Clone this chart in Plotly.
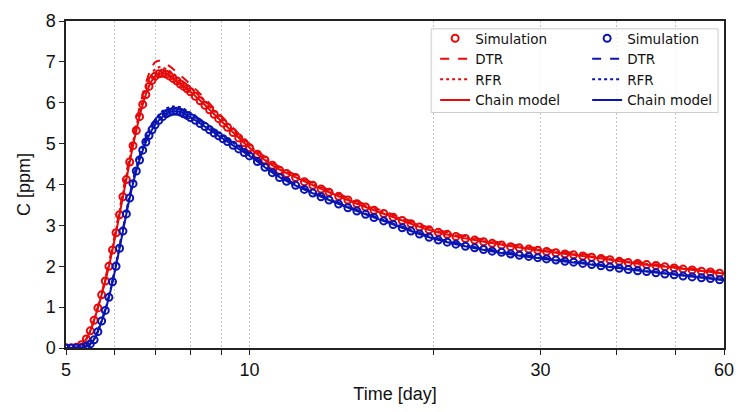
import plotly.graph_objects as go

# ---- data ----
t_sim = [5.0, 5.1, 5.2, 5.3, 5.4, 5.48, 5.56, 5.64, 5.72, 5.8,
         5.88, 5.96, 6.04, 6.12, 6.2, 6.28, 6.36, 6.44, 6.52, 6.6,
         6.68, 6.76, 6.84, 6.92, 7.0, 7.1, 7.2, 7.3, 7.4, 7.5,
         7.6, 7.7, 7.8, 7.9, 8.0, 8.15, 8.3, 8.45, 8.6, 8.75,
         8.9, 9.05, 9.2, 9.4, 9.6, 9.8, 10.0, 10.3, 10.6, 10.9,
         11.2, 11.5, 11.9, 12.3, 12.7, 13.1, 13.5, 14.0, 14.5, 15.0,
         15.5, 16.0, 16.6, 17.2, 17.8, 18.4, 19.0, 19.7, 20.4, 21.1,
         21.8, 22.6, 23.4, 24.2, 25.0, 25.9, 26.8, 27.7, 28.7, 29.7,
         30.7, 31.8, 32.9, 34.0, 35.2, 36.4, 37.7, 39.0, 40.4, 41.8,
         43.3, 44.8, 46.4, 48.0, 49.7, 51.4, 53.2, 55.1, 57.0, 59.0]

red_sim = [0.0, 0.0, 0.02, 0.08, 0.22, 0.42, 0.68, 0.98, 1.30, 1.64,
           2.0, 2.4, 2.82, 3.26, 3.7, 4.12, 4.55, 4.95, 5.32, 5.66,
           5.96, 6.2, 6.4, 6.55, 6.65, 6.71, 6.72, 6.70, 6.65, 6.59,
           6.53, 6.46, 6.40, 6.34, 6.27, 6.16, 6.05, 5.94, 5.83, 5.72,
           5.61, 5.50, 5.40, 5.27, 5.14, 5.02, 4.90, 4.74, 4.60, 4.47,
           4.35, 4.27, 4.17, 4.07, 3.98, 3.89, 3.81, 3.71, 3.62, 3.53,
           3.45, 3.37, 3.29, 3.20, 3.12, 3.04, 2.96, 2.89, 2.83, 2.78,
           2.73, 2.68, 2.64, 2.60, 2.56, 2.52, 2.48, 2.45, 2.42, 2.39,
           2.36, 2.33, 2.30, 2.28, 2.25, 2.22, 2.19, 2.16, 2.12, 2.09,
           2.07, 2.04, 2.02, 1.99, 1.96, 1.93, 1.91, 1.88, 1.86, 1.83]

blue_sim = [0.0, 0.0, 0.0, 0.01, 0.04, 0.10, 0.20, 0.40, 0.66, 0.92,
            1.24, 1.62, 2.00, 2.44, 2.86, 3.28, 3.67, 4.02, 4.33, 4.60,
            4.84, 5.04, 5.20, 5.34, 5.46, 5.57, 5.66, 5.73, 5.77, 5.79,
            5.79, 5.77, 5.73, 5.69, 5.64, 5.57, 5.49, 5.42, 5.34, 5.26,
            5.19, 5.12, 5.05, 4.96, 4.87, 4.78, 4.70, 4.56, 4.42, 4.29,
            4.17, 4.08, 3.98, 3.88, 3.79, 3.70, 3.62, 3.52, 3.43, 3.35,
            3.27, 3.19, 3.11, 3.02, 2.94, 2.86, 2.79, 2.71, 2.64, 2.59,
            2.54, 2.49, 2.45, 2.41, 2.37, 2.34, 2.30, 2.27, 2.24, 2.21,
            2.18, 2.15, 2.12, 2.10, 2.07, 2.04, 2.01, 1.98, 1.95, 1.92,
            1.89, 1.87, 1.84, 1.81, 1.79, 1.76, 1.74, 1.72, 1.70, 1.67]

t_model = [5.0, 5.2, 5.3, 5.4, 5.5, 5.6, 5.7, 5.8, 5.9, 6.0,
           6.1, 6.2, 6.3, 6.4, 6.5, 6.6, 6.7, 6.8, 6.9, 7.0,
           7.1, 7.2, 7.35, 7.5, 7.7, 8.0, 8.4, 8.8, 9.3, 10.0,
           11.0, 12.0, 13.5, 15.0, 17.0, 20.0, 24.0, 30.0, 36.0, 43.0,
           50.0, 60.0]

red_dtr = [0.0, 0.02, 0.08, 0.22, 0.48, 0.84, 1.25, 1.70, 2.18, 2.70,
           3.26, 3.83, 4.38, 4.92, 5.42, 5.88, 6.27, 6.60, 6.84, 6.99,
           7.03, 7.00, 6.92, 6.82, 6.67, 6.45, 6.14, 5.82, 5.45, 4.99,
           4.50, 4.21, 3.87, 3.59, 3.29, 2.92, 2.66, 2.43, 2.28, 2.11,
           1.99, 1.85]
red_rfr = [0.0, 0.02, 0.08, 0.22, 0.48, 0.84, 1.24, 1.67, 2.14, 2.66,
           3.21, 3.77, 4.31, 4.84, 5.33, 5.77, 6.15, 6.46, 6.68, 6.82,
           6.87, 6.86, 6.80, 6.71, 6.57, 6.37, 6.07, 5.76, 5.40, 4.95,
           4.47, 4.18, 3.84, 3.56, 3.26, 2.89, 2.63, 2.40, 2.25, 2.09,
           1.97, 1.83]
red_chain = [0.0, 0.02, 0.08, 0.22, 0.48, 0.83, 1.22, 1.64, 2.10, 2.61,
             3.15, 3.70, 4.23, 4.75, 5.23, 5.66, 6.02, 6.31, 6.52, 6.65,
             6.71, 6.72, 6.68, 6.59, 6.46, 6.27, 5.98, 5.68, 5.34, 4.90,
             4.43, 4.15, 3.81, 3.53, 3.23, 2.86, 2.61, 2.38, 2.23, 2.07,
             1.96, 1.82]

blue_dtr = [0.0, 0.0, 0.01, 0.04, 0.13, 0.31, 0.61, 0.95, 1.37, 1.85,
            2.38, 2.92, 3.44, 3.92, 4.34, 4.69, 4.98, 5.21, 5.40, 5.55,
            5.66, 5.75, 5.83, 5.86, 5.84, 5.71, 5.50, 5.29, 5.05, 4.74,
            4.29, 3.98, 3.65, 3.38, 3.08, 2.71, 2.44, 2.22, 2.07, 1.92,
            1.81, 1.68]
blue_rfr = [0.0, 0.0, 0.01, 0.04, 0.12, 0.30, 0.60, 0.94, 1.36, 1.84,
            2.37, 2.91, 3.43, 3.91, 4.34, 4.70, 5.00, 5.24, 5.44, 5.59,
            5.71, 5.80, 5.88, 5.91, 5.89, 5.76, 5.54, 5.32, 5.07, 4.75,
            4.29, 3.98, 3.64, 3.37, 3.07, 2.70, 2.43, 2.21, 2.06, 1.91,
            1.80, 1.67]
blue_chain = [0.0, 0.0, 0.01, 0.04, 0.12, 0.29, 0.59, 0.92, 1.33, 1.81,
              2.33, 2.86, 3.38, 3.85, 4.26, 4.60, 4.89, 5.12, 5.31, 5.46,
              5.57, 5.66, 5.75, 5.79, 5.77, 5.64, 5.44, 5.24, 5.00, 4.70,
              4.25, 3.95, 3.62, 3.35, 3.05, 2.68, 2.41, 2.19, 2.05, 1.90,
              1.79, 1.66]

x_ticks = [5, 10, 30, 60]
x_minor = [6, 7, 8, 9, 20, 40, 50]
legend_names = ["Simulation", "DTR", "RFR", "Chain model"]

RED = "#e60a0a"
BLUE = "#0a14b0"

fig = go.Figure()

def add_group(color, sim, dtr, rfr, chain, leg):
    fig.add_trace(go.Scatter(x=t_sim, y=sim, mode="markers", name=legend_names[0],
                             marker=dict(symbol="circle-open", size=7, color=color,
                                         line=dict(width=2, color=color)),
                             legend=leg))
    fig.add_trace(go.Scatter(x=t_model, y=dtr, mode="lines", name=legend_names[1],
                             line=dict(color=color, width=2, dash="dash", shape="spline"),
                             legend=leg))
    fig.add_trace(go.Scatter(x=t_model, y=rfr, mode="lines", name=legend_names[2],
                             line=dict(color=color, width=2, dash="dot", shape="spline"),
                             legend=leg))
    fig.add_trace(go.Scatter(x=t_model, y=chain, mode="lines", name=legend_names[3],
                             line=dict(color=color, width=2, shape="spline"),
                             legend=leg))

add_group(RED, red_sim, red_dtr, red_rfr, red_chain, "legend")
add_group(BLUE, blue_sim, blue_dtr, blue_rfr, blue_chain, "legend2")

axis_font = dict(family="Liberation Sans, Arial, sans-serif", size=18, color="#111111")
leg_font = dict(family="DejaVu Sans, sans-serif", size=13.5, color="#111111")
GRID = "#c4c4c4"

fig.update_layout(
    width=745, height=412,
    margin=dict(l=66, r=11, t=17, b=63),
    plot_bgcolor="white", paper_bgcolor="white",
    font=axis_font,
    xaxis=dict(
        type="log", range=[0.69897, 1.77815],
        tickmode="array", tickvals=x_ticks, ticktext=[str(v) for v in x_ticks],
        ticks="outside", ticklen=5, tickwidth=1.2, tickcolor="#222",
        showline=True, linecolor="#222", linewidth=1.5, mirror=True,
        showgrid=True, gridcolor=GRID, griddash="2px,2px", gridwidth=1,
        minor=dict(tickvals=x_minor, ticks="outside", ticklen=5, tickwidth=1.2,
                   tickcolor="#222", showgrid=True, gridcolor=GRID,
                   griddash="2px,2px", gridwidth=1),
        title=dict(text="Time [day]", font=axis_font, standoff=8),
        tickfont=axis_font, zeroline=False,
    ),
    yaxis=dict(
        range=[0, 8], dtick=1, tick0=0,
        ticks="outside", ticklen=5, tickwidth=1.2, tickcolor="#222",
        showline=True, linecolor="#222", linewidth=1.5, mirror=True,
        showgrid=False, zeroline=False,
        title=dict(text="C [ppm]", font=axis_font, standoff=10),
        tickfont=axis_font,
    ),
    legend=dict(x=0.561, y=0.994, xanchor="left", yanchor="top",
                bgcolor="rgba(0,0,0,0)", borderwidth=0, font=leg_font,
                tracegroupgap=0, itemwidth=30),
    legend2=dict(x=0.792, y=0.994, xanchor="left", yanchor="top",
                 bgcolor="rgba(0,0,0,0)", borderwidth=0, font=leg_font,
                 tracegroupgap=0, itemwidth=30),
    shapes=[dict(type="rect", xref="paper", yref="paper",
                 x0=0.555, x1=0.991, y0=0.72, y1=0.976,
                 line=dict(color="#cccccc", width=1),
                 fillcolor="rgba(255,255,255,0.8)", layer="above")],
    showlegend=True,
)

fig.write_html("out.html")
